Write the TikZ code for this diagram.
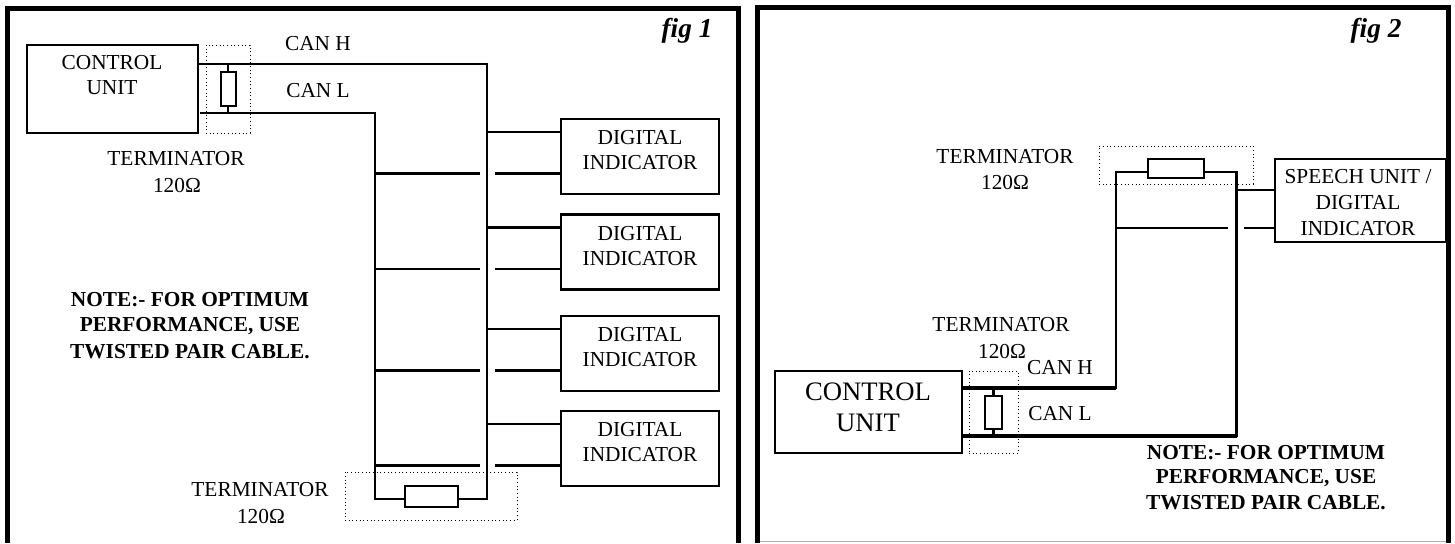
\documentclass[tikz,border=0pt]{standalone}
\usepackage{fontspec}
\setmainfont{Liberation Serif}
\begin{document}
\begin{tikzpicture}[x=0.75pt,y=-0.75pt,
  wire/.style={line width=1.9pt,line join=miter,line cap=rect},
  bus/.style={line width=3.2pt},
  frameline/.style={line width=3.75pt},
  box/.style={draw,line width=2.1pt,rectangle,inner sep=0pt,fill=white},
  res/.style={draw,line width=2.1pt,rectangle,inner sep=0pt,fill=white},
  dots/.style={draw,line width=0.75pt,dotted,rectangle,inner sep=0pt},
  lab/.style={font=\fontsize{16}{19}\selectfont,align=center,inner sep=0pt,yshift=-0.75pt},
  biglab/.style={font=\fontsize{20}{24}\selectfont,align=center,inner sep=0pt},
  notelab/.style={font=\fontsize{16}{19}\selectfont\bfseries,inner sep=0pt,yshift=-0.75pt},
  figlab/.style={font=\fontsize{20.5}{24}\selectfont\bfseries\itshape,inner sep=0pt,yshift=-1.2pt}]
\useasboundingbox (0,0) rectangle (1455,543);
\def\bx#1#2#3#4#5#6{\node[#6,minimum width=#4*0.75pt,minimum height=#5*0.75pt] (#1) at (#2,#3) {};}
% frames
\coordinate (fa) at (7.5,543); \coordinate (fb) at (7.5,8.5); \coordinate (fc) at (738,8.5); \coordinate (fd) at (738,543);
\draw[frameline] (fa)--(fb)--(fc)--(fd);
\coordinate (ga) at (757.5,543); \coordinate (gb) at (757.5,7.5); \coordinate (gc) at (1448.5,7.5); \coordinate (gd) at (1448.5,543);
\draw[frameline] (ga)--(gb)--(gc)--(gd);
\coordinate (ge) at (760,541.5); \coordinate (gf) at (1446,541.5);
\draw[line width=0.75pt,black!30] (ge)--(gf);
% ---------- fig 1
\bx{tdot1}{228}{89}{44}{88}{dots}
\bx{bdot1}{431}{496}{172}{48}{dots}
\bx{cu1}{112.5}{89}{171}{88}{box}
\node[lab] (cu1a) at (112,62) {CONTROL};
\node[lab] (cu1b) at (112,87) {UNIT};
\coordinate (h1a) at (199,64); \coordinate (h1b) at (487,64); \coordinate (h1c) at (487,499);
\coordinate (l1a) at (201,113); \coordinate (l1b) at (375,113); \coordinate (l1c) at (375,499);
\draw[wire] (h1a)--(h1b)--(h1c)--(l1c)--(l1b)--(l1a);
\coordinate (t1h) at (228,64); \coordinate (t1l) at (228,113);
\draw[wire] (t1h)--(t1l);
\bx{r1}{228.5}{89}{15}{34}{res}
\bx{r1b}{431.5}{496.5}{53}{21}{res}
\foreach \n/\t in {1/119,2/214.5,3/316,4/411}{
  \pgfmathsetmacro{\cy}{\t+37.5}
  \pgfmathsetmacro{\ya}{\t+13}
  \pgfmathsetmacro{\yb}{\t+54.5}
  \pgfmathsetmacro{\la}{\t+18}
  \pgfmathsetmacro{\lb}{\t+43}
  \bx{di\n}{640}{\cy}{158}{75}{box}
  \node[lab] (dia\n) at (640,\la) {DIGITAL};
  \node[lab] (dib\n) at (640,\lb) {INDICATOR};
  \coordinate (sa\n) at (487,\ya); \coordinate (sb\n) at (561,\ya);
  \coordinate (sc\n) at (375,\yb); \coordinate (sd\n) at (480,\yb);
  \coordinate (se\n) at (495,\yb); \coordinate (sf\n) at (561,\yb);
  \draw[wire,line cap=butt] (sa\n)--(sb\n) (sc\n)--(sd\n) (se\n)--(sf\n);
}
\node[lab] (canh1) at (318,43) {CAN H};
\node[lab] (canl1) at (318,90) {CAN L};
\node[lab] (te1) at (176,158) {TERMINATOR};
\node[lab] (oh1) at (177,185) {120Ω};
\node[lab] (te1b) at (260,489) {TERMINATOR};
\node[lab] (oh1b) at (261,516) {120Ω};
\node[notelab] (n1a) at (190,299) {NOTE:- FOR OPTIMUM};
\node[notelab] (n1b) at (190,325) {PERFORMANCE, USE};
\node[notelab] (n1c) at (190,351) {TWISTED PAIR CABLE.};
\node[figlab] (f1) at (687,29) {fig 1};
% ---------- fig 2
\bx{tdot2}{993.5}{412}{49}{82}{dots}
\bx{bdot2}{1176}{165}{154}{38}{dots}
\bx{cu2}{868.5}{412}{187}{82}{box}
\node[biglab] (cu2a) at (868,392) {CONTROL};
\node[biglab] (cu2b) at (868,423) {UNIT};
\coordinate (h2a) at (962,388); \coordinate (h2b) at (1116,388); \coordinate (h2c) at (1116,172);
\coordinate (l2a) at (962,436); \coordinate (l2b) at (1236.5,436); \coordinate (l2c) at (1236.5,172);
\draw[bus] (h2a)--(h2b) (l2a)--(l2b);
\draw[wire] (h2b)--(h2c)--(l2c)--(l2b);
\coordinate (t2h) at (993.5,388); \coordinate (t2l) at (993.5,436);
\draw[wire] (t2h)--(t2l);
\bx{r2}{993.5}{412.5}{17}{33}{res}
\bx{r2b}{1176}{168.5}{56}{19}{res}
\bx{su}{1360.5}{200.5}{171}{83}{box}
\node[lab] (sua) at (1358,176) {SPEECH UNIT /};
\node[lab] (sub) at (1358,202) {DIGITAL};
\node[lab] (suc) at (1358,228) {INDICATOR};
\coordinate (s2a) at (1236.5,190); \coordinate (s2b) at (1275,190);
\coordinate (s2c) at (1116,228); \coordinate (s2d) at (1228,228);
\coordinate (s2e) at (1244,228); \coordinate (s2f) at (1275,228);
\draw[wire,line cap=butt] (s2a)--(s2b) (s2c)--(s2d) (s2e)--(s2f);
\node[lab] (te2) at (1005,156) {TERMINATOR};
\node[lab] (oh2) at (1005,182) {120Ω};
\node[lab] (te2b) at (1001,324) {TERMINATOR};
\node[lab] (oh2b) at (1002,351) {120Ω};
\node[lab] (canh2) at (1060,367) {CAN H};
\node[lab] (canl2) at (1060,413) {CAN L};
\node[notelab] (n2a) at (1266,452) {NOTE:- FOR OPTIMUM};
\node[notelab] (n2b) at (1266,477) {PERFORMANCE, USE};
\node[notelab] (n2c) at (1266,502) {TWISTED PAIR CABLE.};
\node[figlab] (f2) at (1376,29) {fig 2};
\end{tikzpicture}
\end{document}
